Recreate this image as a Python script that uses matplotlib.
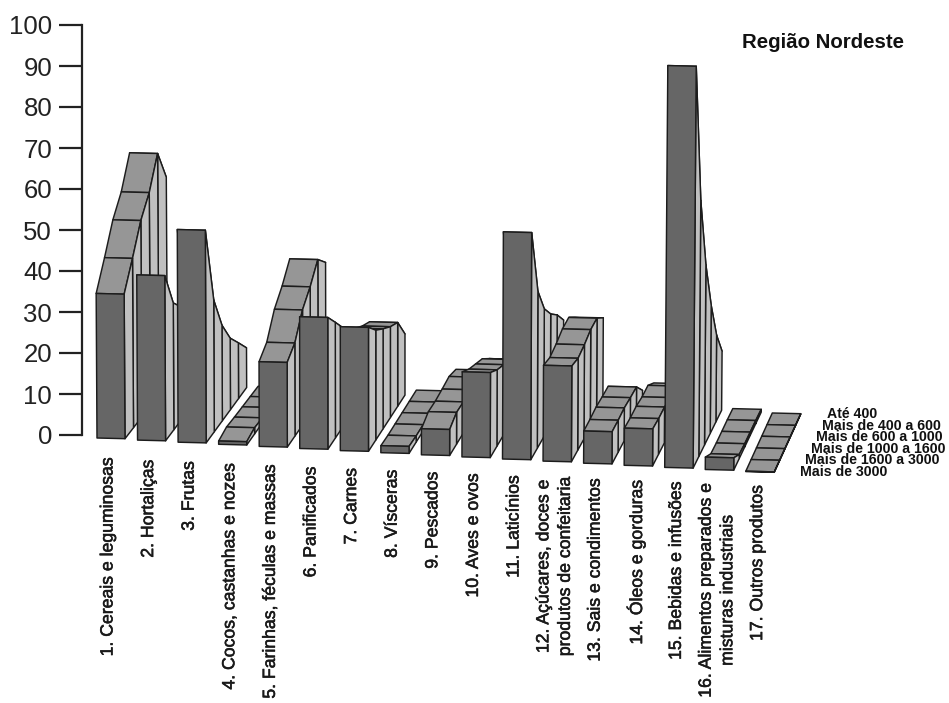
import matplotlib
matplotlib.use("Agg")
import matplotlib.pyplot as plt
from matplotlib.patches import Polygon
import matplotlib.patheffects as pe

plt.rcParams['font.family'] = ['Liberation Sans', 'DejaVu Sans']

# === DATA ===
CATEGORIES = [
    "1. Cereais e leguminosas", "2. Hortaliças", "3. Frutas",
    "4. Cocos, castanhas e nozes", "5. Farinhas, féculas e massas",
    "6. Panificados", "7. Carnes", "8. Vísceras", "9. Pescados",
    "10. Aves e ovos", "11. Laticínios",
    "12. Açúcares, doces e\nprodutos de confeitaria",
    "13. Sais e condimentos", "14. Óleos e gorduras",
    "15. Bebidas e infusões",
    "16. Alimentos preparados e\nmisturas industriais", "17. Outros produtos",
]
INCOME_CLASSES = [
    "Mais de 3000", "Mais de 1600 a 3000", "Mais de 1000 a 1600",
    "Mais de 600 a 1000", "Mais de 400 a 600", "Até 400",
]
# one row per category, one value per income class (front to back)
VALUES = [
    [35.0, 41.0, 47.5, 51.6, 58.4, 50.0],
    [40.0, 30.7, 27.0, 24.0, 20.0, 18.0],
    [51.5, 31.9, 23.1, 17.3, 13.5, 9.6],
    [0.8, 1.5, 1.2, 1.0, 0.8, 0.6],
    [20.5, 22.5, 27.8, 30.7, 34.6, 31.2],
    [31.9, 28.0, 24.0, 20.0, 17.0, 14.0],
    [30.0, 26.6, 24.2, 22.0, 20.3, 14.8],
    [1.7, 1.5, 1.5, 1.5, 1.5, 1.5],
    [6.3, 7.7, 7.5, 7.7, 8.0, 7.0],
    [20.6, 18.5, 17.0, 15.5, 12.8, 10.0],
    [55.0, 38.0, 31.0, 27.0, 24.0, 20.0],
    [23.2, 22.3, 22.8, 23.7, 23.7, 21.0],
    [7.8, 7.8, 8.0, 7.7, 7.5, 3.9],
    [9.0, 8.7, 8.7, 8.2, 8.2, 6.0],
    [97.3, 62.0, 43.6, 31.0, 21.0, 14.3],
    [3.0, 1.0, 0.8, 0.8, 0.8, 0.7],
    [0.1, 0.1, 0.1, 0.1, 0.1, 0.1],
]
Y_TICKS = list(range(0, 101, 10))

# === STYLE / LAYOUT ===
FRONT = "#666666"
ROOF = "#969696"
SIDE = "#c0c0c0"
EDGE = "#1c1c1c"
TEXT = "#1a1a1a"
W_PX, H_PX = 949, 703

X0, Y0 = 97.0, 438.0     # front-left foot of the first ribbon
STEP, DRIFT = 40.55, 2.1  # shift from one category to the next
PX_PER_UNIT = 4.13
N_DEPTH = len(INCOME_CLASSES) - 1


def project(i, u, d, v):
    """Oblique view: i category, u across the ribbon 0-1, d depth 0-1, v value."""
    dx = (42.5 - i) * d
    dy = (55 + 0.2 * i) * d
    width = 28 + 0.03 * i
    lean = 0.004 * (i - 6) * v   # verticals fan out slightly with height
    return (X0 + i * STEP + u * width + dx + lean,
            Y0 + i * DRIFT + 0.7 * u - dy - v * PX_PER_UNIT)


fig = plt.figure(figsize=(W_PX / 100, H_PX / 100), dpi=100)

# value axis
ax_y = fig.add_axes([82 / W_PX, 1 - 435 / H_PX, 0.02, 410 / H_PX])
ax_y.set_ylim(0, 100)
ax_y.set_yticks(Y_TICKS)
ax_y.set_xticks([])
ax_y.tick_params(axis='y', length=16.5, width=1.6, pad=5, labelsize=18.5,
                 color="#222222", labelcolor="#222222")
for name in ("top", "right", "bottom"):
    ax_y.spines[name].set_visible(False)
ax_y.spines["left"].set_linewidth(1.6)
ax_y.spines["left"].set_color("#222222")
ax_y.patch.set_visible(False)

# pixel-sized canvas for the oblique ribbons
ax = fig.add_axes([0, 0, 1, 1])
ax.set_xlim(0, W_PX)
ax.set_ylim(H_PX, 0)
ax.axis('off')


def face(points, color, z):
    ax.add_patch(Polygon(points, closed=True, facecolor=color, edgecolor=EDGE,
                         linewidth=1.05, joinstyle='round', zorder=z))


z = 2
for i, row in enumerate(VALUES):
    # back to front so nearer faces cover farther ones
    for k in range(N_DEPTH - 1, -1, -1):
        d0, d1 = k / N_DEPTH, (k + 1) / N_DEPTH
        v0, v1 = row[k], row[k + 1]
        face([project(i, 0, d0, v0), project(i, 1, d0, v0),
              project(i, 1, d1, v1), project(i, 0, d1, v1)], ROOF, z)
        z += 1
        face([project(i, 1, d0, 0), project(i, 1, d1, 0),
              project(i, 1, d1, v1), project(i, 1, d0, v0)], SIDE, z)
        z += 1
    face([project(i, 0, 0, 0), project(i, 1, 0, 0),
          project(i, 1, 0, row[0]), project(i, 0, 0, row[0])], FRONT, z)
    z += 1

# category labels, hanging below the ribbons
semi_bold = [pe.withStroke(linewidth=0.4, foreground=TEXT)]
for i, name in enumerate(CATEGORIES):
    x = 108 + 40.6 * i
    y = 458 + 1.7 * i
    ax.text(x, y, name, rotation=90, ha='center', va='top', ma='center',
            fontsize=12.7, color=TEXT, linespacing=1.35,
            path_effects=semi_bold, zorder=z + 1)

# income class labels stepping along the depth axis
for k, name in enumerate(INCOME_CLASSES):
    ax.text(800 + k * 5.4, 472 - k * 11.6, name, ha='left', va='center',
            fontsize=10.2, fontweight='bold', color="#111111", zorder=z + 1)

ax.text(742, 42, "Região Nordeste", ha='left', va='center', fontsize=14.7,
        fontweight='bold', color="#111111")

plt.savefig("out.png", dpi=100)
